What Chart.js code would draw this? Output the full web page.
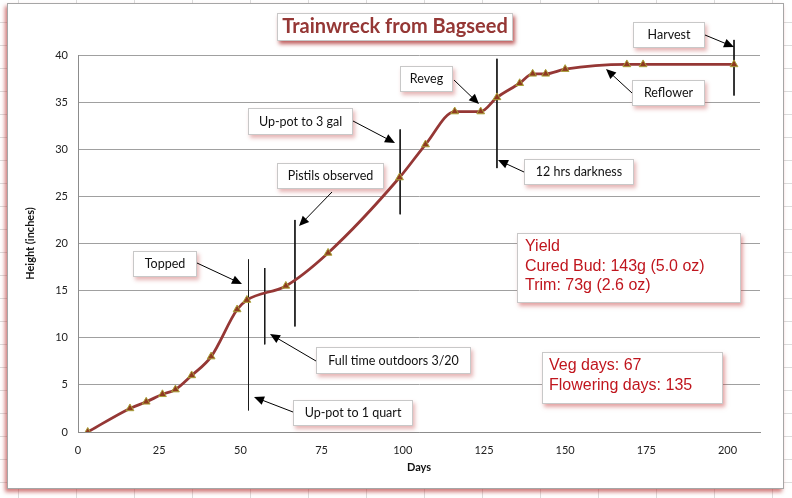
<!DOCTYPE html>
<html lang="en">
<head>
<meta charset="UTF-8">
<title>Trainwreck from Bagseed</title>
<script src="https://cdn.jsdelivr.net/npm/chart.js"></script>
<style>
    body {
        margin: 0;
        width: 792px;
        height: 498px;
        overflow: hidden;
        position: relative;
        background-color: #fff;
        background-image: linear-gradient(#dcdcdc 1px, transparent 1px),
                          linear-gradient(90deg, #dcdcdc 1px, transparent 1px);
        background-size: 58px 23px;
        background-position: 18px 22px;
    }
    .frame {
        position: absolute;
        left: 7px;
        top: 3px;
        width: 775px;
        height: 484px;
        background: #fff;
        border: 1px solid #a6a6a6;
        box-shadow: -2px 3px 4px rgba(185, 50, 50, 0.65);
    }
    #chart {
        position: absolute;
        left: 0;
        top: 0;
    }
</style>
</head>
<body>
<div class="frame"></div>
<canvas id="chart" width="792" height="498"></canvas>
<script>
    // growth measurements
    var days    = [3, 16, 21, 26, 30, 35, 41, 49, 52, 64, 77, 99, 107, 116, 124, 129, 136, 140, 144, 150, 169, 174, 202];
    var heights = [0, 2.5, 3.2, 4, 4.5, 6, 8, 13, 14, 15.5, 19, 27, 30.5, 34, 34, 35.5, 37, 38, 38, 38.5, 39, 39, 39];

    // event marker lines (day, top, bottom in inches)
    var eventDays   = [52.5, 57.5, 66.8, 99.2, 129, 202];
    var eventTop    = [18.3, 17.4, 22.5, 32.1, 39.6, 41.6];
    var eventBottom = [2.3, 9.3, 11.2, 23.1, 28, 35.7];

    var xTicks = [0, 25, 50, 75, 100, 125, 150, 175, 200];
    var yTicks = [0, 5, 10, 15, 20, 25, 30, 35, 40];

    var titleText = 'Trainwreck from Bagseed';
    var yieldLines = ['Yield', 'Cured Bud: 143g (5.0 oz)', 'Trim: 73g (2.6 oz)'];
    var dayLines = ['Veg days: 67', 'Flowering days: 135'];

    // callouts: box [x, y, w, h], arrow from -> to (page pixels)
    var callouts = [
        {text: 'Harvest', box: [633, 22, 72, 26], from: [705, 35], to: [734, 47]},
        {text: 'Reveg', box: [400, 66, 53, 26], from: [454, 80], to: [479, 104]},
        {text: 'Reflower', box: [632, 80, 73, 26], from: [632, 93], to: [606, 69]},
        {text: '12 hrs darkness', box: [524, 159, 110, 26], from: [524, 172], to: [498, 160]},
        {text: 'Up-pot to 3 gal', box: [248, 108, 105, 27], from: [353, 121], to: [395, 143]},
        {text: 'Pistils observed', box: [277, 163, 107, 26], from: [332, 192], to: [299, 226]},
        {text: 'Topped', box: [133, 251, 64, 26], from: [197, 263], to: [242, 284]},
        {text: 'Full time outdoors 3/20', box: [316, 347, 155, 27], from: [316, 361], to: [270, 334]},
        {text: 'Up-pot to 1 quart', box: [293, 400, 120, 26], from: [293, 412], to: [254, 397]}
    ];

    function drawArrow(ctx, x1, y1, x2, y2) {
        var a = Math.atan2(y2 - y1, x2 - x1);
        var c = Math.cos(a), s = Math.sin(a);
        ctx.beginPath();
        ctx.moveTo(x1, y1);
        ctx.lineTo(x2 - 6 * c, y2 - 6 * s);
        ctx.stroke();
        ctx.beginPath();
        ctx.moveTo(x2, y2);
        ctx.lineTo(x2 - 10 * c + 4.5 * s, y2 - 10 * s - 4.5 * c);
        ctx.lineTo(x2 - 10 * c - 4.5 * s, y2 - 10 * s + 4.5 * c);
        ctx.closePath();
        ctx.fill();
    }

    function drawBox(ctx, x, y, w, h, shadow) {
        ctx.save();
        ctx.shadowColor = shadow;
        ctx.shadowOffsetX = 2;
        ctx.shadowOffsetY = 3;
        ctx.shadowBlur = 4;
        ctx.fillStyle = '#fff';
        ctx.fillRect(x, y, w, h);
        ctx.restore();
        ctx.strokeStyle = '#c8c8c8';
        ctx.lineWidth = 1;
        ctx.strokeRect(x + 0.5, y + 0.5, w - 1, h - 1);
    }

    var calloutPlugin = {
        id: 'callouts',
        afterDraw: function (chart) {
            var ctx = chart.ctx;
            ctx.save();

            // title
            drawBox(ctx, 277, 13, 236, 28, 'rgba(170, 40, 40, 0.75)');
            ctx.fillStyle = '#953735';
            ctx.font = 'bold 20px Lato';
            ctx.textAlign = 'center';
            ctx.textBaseline = 'middle';
            ctx.fillText(titleText, 395, 27);

            callouts.forEach(function (c) {
                var b = c.box;
                drawBox(ctx, b[0], b[1], b[2], b[3], 'rgba(200, 90, 90, 0.45)');
                ctx.fillStyle = '#111';
                ctx.font = '12.5px Lato';
                ctx.textAlign = 'center';
                ctx.textBaseline = 'middle';
                ctx.fillText(c.text, b[0] + b[2] / 2, b[1] + b[3] / 2);
                ctx.strokeStyle = '#000';
                ctx.fillStyle = '#000';
                ctx.lineWidth = 1;
                drawArrow(ctx, c.from[0], c.from[1], c.to[0], c.to[1]);
            });

            // yield and days boxes
            drawBox(ctx, 517, 233, 224, 70, 'rgba(200, 70, 70, 0.5)');
            drawBox(ctx, 542, 352, 181, 52, 'rgba(200, 70, 70, 0.5)');
            ctx.fillStyle = '#c0161e';
            ctx.font = '16px "Liberation Sans"';
            ctx.textAlign = 'left';
            ctx.textBaseline = 'middle';
            yieldLines.forEach(function (t, i) {
                ctx.fillText(t, 525, 247 + i * 19.5);
            });
            dayLines.forEach(function (t, i) {
                ctx.fillText(t, 549, 366 + i * 20);
            });
            ctx.restore();
        }
    };

    var datasets = [{
        data: days.map(function (d, i) { return {x: d, y: heights[i]}; }),
        borderColor: '#953735',
        borderWidth: 2.8,
        cubicInterpolationMode: 'monotone',
        pointStyle: 'triangle',
        pointRadius: 4.5,
        pointBackgroundColor: '#8f3a20',
        pointBorderColor: '#a9a13a',
        pointBorderWidth: 1
    }];
    eventDays.forEach(function (d, i) {
        datasets.push({
            data: [{x: d, y: eventTop[i]}, {x: d, y: eventBottom[i]}],
            borderColor: '#1a1a1a',
            borderWidth: 1,
            pointRadius: 0,
            clip: false
        });
    });

    new Chart(document.getElementById('chart').getContext('2d'), {
        type: 'line',
        data: {datasets: datasets},
        options: {
            responsive: false,
            animation: false,
            layout: {padding: {left: 20, right: 32, top: 55, bottom: 24}},
            plugins: {legend: {display: false}, tooltip: {enabled: false}},
            scales: {
                x: {
                    type: 'linear',
                    min: 0,
                    max: 210,
                    afterBuildTicks: function (scale) {
                        scale.ticks = xTicks.map(function (v) { return {value: v}; });
                    },
                    afterFit: function (scale) { scale.height = 42; },
                    grid: {display: false, drawTicks: false},
                    border: {display: true, color: '#8c8c8c'},
                    ticks: {padding: 12, color: '#222', font: {family: 'Lato', size: 11}, maxRotation: 0},
                    title: {display: true, text: 'Days', color: '#111', padding: 0,
                        font: {family: 'Lato', size: 11, weight: 'bold'}}
                },
                y: {
                    min: 0,
                    max: 40,
                    afterBuildTicks: function (scale) {
                        scale.ticks = yTicks.map(function (v) { return {value: v}; });
                    },
                    afterFit: function (scale) { scale.width = 58; },
                    grid: {color: '#a0a0a0', drawTicks: false},
                    border: {display: true, color: '#8c8c8c'},
                    ticks: {padding: 10, color: '#222', font: {family: 'Lato', size: 11}},
                    title: {display: true, text: 'Height (inches)', color: '#111', padding: {top: 4, bottom: 0},
                        font: {family: 'Lato', size: 11, weight: 'bold'}}
                }
            }
        },
        plugins: [calloutPlugin]
    });
</script>
</body>
</html>
